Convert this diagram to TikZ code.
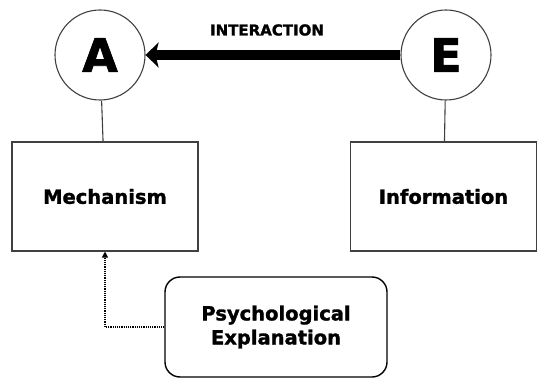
\documentclass[tikz,border=0pt]{standalone}
\usepackage{fontspec}
\setsansfont{DejaVu Sans}[BoldFeatures={FakeBold=1.5}]
\usetikzlibrary{arrows.meta}
\newcommand{\lbl}{\sffamily\bfseries\fontsize{19.5}{24}\selectfont}
\tikzset{
  agent/.style={circle, draw=black!75, line width=1.1pt, minimum size=90pt, inner sep=0pt,
    font=\sffamily\bfseries\fontsize{46}{46}\selectfont},
  level/.style={draw=black!75, line width=1.1pt, minimum width=186pt, minimum height=109pt, font=\lbl},
  expl/.style={draw=black, line width=1.4pt, rounded corners=15pt, minimum width=222pt,
    minimum height=100pt, align=center, font=\lbl}
}
\begin{document}
\begin{tikzpicture}[x=1pt,y=-1pt]
\useasboundingbox (0,0) rectangle (537,379);
\node[agent] (A) at (100,55) {A};
\node[agent] (E) at (446,55) {E};
\node[level] (mech) at (105,196.5) {Mechanism};
\node[level] (info) at (443.5,196.5) {Information};
\node[expl] (psych) at (276,327) {Psychological\\Explanation};
\node[font=\sffamily\bfseries\fontsize{15}{15}\selectfont] (inter) at (267,30) {INTERACTION};

\draw[line width=10pt, -{Stealth[length=13pt, width=25pt, inset=3pt]}] (E) -- (A);
\draw[black!75, line width=1.1pt] (A) -- (mech);
\draw[black!75, line width=1.1pt] (E) -- (info);
%\draw (psych) -- (mech);
\draw[line width=1.2pt, densely dotted, -{Triangle[length=6pt, width=6pt]}] (psych.west) -| (mech.south);
\end{tikzpicture}
\end{document}
